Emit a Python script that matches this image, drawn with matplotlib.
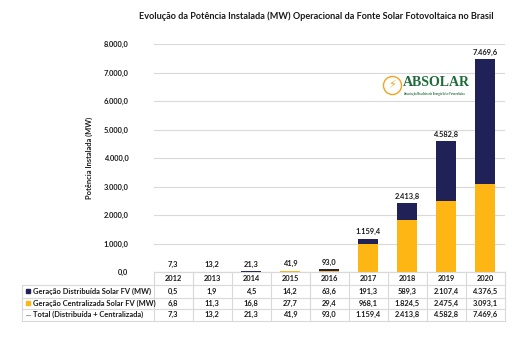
import matplotlib.pyplot as plt
import matplotlib.transforms as mtransforms
import numpy as np

# Dados
anos = ['2012', '2013', '2014', '2015', '2016', '2017', '2018', '2019', '2020']
distribuida = [0.5, 1.9, 4.5, 14.2, 63.6, 191.3, 589.3, 2107.4, 4376.5]
centralizada = [6.8, 11.3, 16.8, 27.7, 29.4, 968.1, 1824.5, 2475.4, 3093.1]
total = [7.3, 13.2, 21.3, 41.9, 93.0, 1159.4, 2413.8, 4582.8, 7469.6]

cor_dist = '#1f2157'
cor_cent = '#fdb614'
cor_grade = '#d9d9d9'
cor_texto = '#1a1a1a'

plt.rcParams['font.family'] = ['Lato', 'DejaVu Sans']
plt.rcParams['font.weight'] = 'bold'


def fmt_br(v):
    s = f'{v:,.1f}'
    return s.replace(',', 'X').replace('.', ',').replace('X', '.')


W, H = 530, 348
fig = plt.figure(figsize=(W / 100, H / 100), dpi=100)

# eixo principal (pixels convertidos)
x0, x1, y_top, y_bot = 153.5, 504.5, 44, 272
ax = fig.add_axes([x0 / W, 1 - y_bot / H, (x1 - x0) / W, (y_bot - y_top) / H])

# camada para o texto/tabela em coordenadas de pixel
over = fig.add_axes([0, 0, 1, 1], zorder=5)
over.set_xlim(0, W)
over.set_ylim(H, 0)
over.axis('off')

pos = np.arange(len(anos))
largura = 0.52
ax.bar(pos, centralizada, width=largura, color=cor_cent, zorder=3)
ax.bar(pos, distribuida, width=largura, bottom=centralizada, color=cor_dist, zorder=3)

for i, t in enumerate(total):
    ax.annotate(fmt_br(t), (pos[i], t), xytext=(0, 2.5), textcoords='offset points',
                ha='center', va='bottom', fontsize=5.4, fontweight='bold', color=cor_texto)

ax.set_xlim(-0.5, len(anos) - 0.5)
ax.set_ylim(0, 8000)
ax.set_yticks(np.arange(0, 8001, 1000))
ax.set_yticklabels([fmt_br(v) for v in np.arange(0, 8001, 1000)],
                   fontsize=5.4, fontweight='bold', color=cor_texto)
ax.tick_params(axis='y', length=0, pad=18)
ax.set_xticks([])
ax.grid(axis='y', color=cor_grade, linewidth=0.8, zorder=0)
for lado in ['top', 'right', 'left']:
    ax.spines[lado].set_visible(False)
ax.spines['bottom'].set_color(cor_grade)
ax.set_ylabel('Potência Instalada (MW)', fontsize=5.4, fontweight='bold',
              color=cor_texto, labelpad=8)

fig.text(316 / W, 1 - 16 / H,
         'Evolução da Potência Instalada (MW) Operacional da Fonte Solar Fotovoltaica no Brasil',
         ha='center', va='center', fontsize=6.6, fontweight='bold', color=cor_texto)

# logo ABSOLAR
over.plot(392, 85, marker='o', markersize=13, markerfacecolor='none',
          markeredgecolor='#f4a41c', markeredgewidth=1.0, linestyle='none')
over.text(392, 85.5, '⚡', ha='center', va='center', fontsize=8, color='#f4a41c',
          family='DejaVu Sans')
over.text(403, 83, 'ABSOLAR', ha='left', va='center', fontsize=10,
          fontweight='bold', color='#1e6b3a', family='Liberation Serif')
over.text(403, 94, 'Associação Brasileira de Energia Solar Fotovoltaica', ha='left',
          va='center', fontsize=2, color='#1e6b3a')

# tabela de dados
trans = mtransforms.blended_transform_factory(ax.transData, over.transData)
linhas_y = [272, 285, 297.5, 309, 320.5]
rotulos = ['Geração Distribuída Solar FV (MW)',
           'Geração Centralizada Solar FV (MW)',
           'Total (Distribuída + Centralizada)']
series = [distribuida, centralizada, total]

for i, ano in enumerate(anos):
    over.text(pos[i], (linhas_y[0] + linhas_y[1]) / 2, ano, transform=trans,
              ha='center', va='center', fontsize=5.4, fontweight='bold', color=cor_texto)
    for r, serie in enumerate(series):
        yc = (linhas_y[r + 1] + linhas_y[r + 2]) / 2
        over.text(pos[i], yc, fmt_br(serie[i]), transform=trans,
                  ha='center', va='center', fontsize=5.4, fontweight='bold', color=cor_texto)

# linhas da tabela
for k in range(len(anos) + 1):
    over.plot([k - 0.5, k - 0.5], [linhas_y[0], linhas_y[-1]], transform=trans,
              color=cor_grade, linewidth=0.8)
for j, y in enumerate(linhas_y):
    xa = 22 if j >= 1 else x0
    over.plot([xa, x1], [y, y], color=cor_grade, linewidth=0.8)
over.plot([22, 22], [linhas_y[1], linhas_y[-1]], color=cor_grade, linewidth=0.8)

for r, rot in enumerate(rotulos):
    yc = (linhas_y[r + 1] + linhas_y[r + 2]) / 2
    if r == 0:
        over.plot(28, yc, marker='s', markersize=3, color=cor_dist)
    elif r == 1:
        over.plot(28, yc, marker='s', markersize=3, color=cor_cent)
    else:
        over.plot([26, 30], [yc, yc], color='#a6a6a6', linewidth=0.8)
    over.text(33, yc, rot, ha='left', va='center', fontsize=5.4,
              fontweight='bold', color=cor_texto)

fig.savefig('out.png', dpi=100)
